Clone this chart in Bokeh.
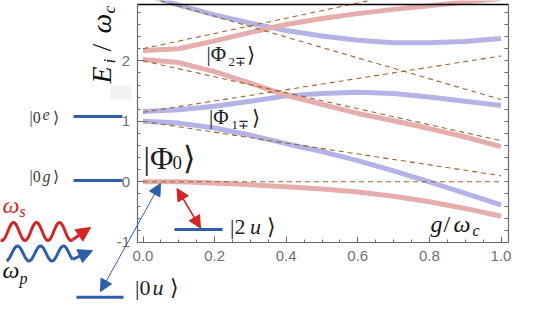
import numpy as np
from bokeh.plotting import figure
from bokeh.models import (Range1d, LinearAxis, FixedTicker, PrintfTickFormatter,
                          Label, Arrow, NormalHead, BoxAnnotation)
from bokeh.embed import file_html
from bokeh.resources import INLINE

# ---------------- data ----------------
g = [0.0, 0.1, 0.2, 0.3, 0.4, 0.5, 0.6, 0.7, 0.8, 0.9, 1.0]

# thick curves (exact spectrum)
E_pink_0 = [0.0, 0.0, -0.02, -0.05, -0.08, -0.12, -0.17, -0.24, -0.33, -0.44, -0.57]
E_blue_1 = [1.0, 0.97, 0.89, 0.77, 0.63, 0.50, 0.35, 0.18, 0.0, -0.19, -0.38]
E_blue_2 = [1.16, 1.19, 1.25, 1.33, 1.42, 1.46, 1.48, 1.46, 1.40, 1.33, 1.26]
E_pink_2 = [2.02, 1.97, 1.82, 1.63, 1.43, 1.28, 1.13, 1.01, 0.88, 0.74, 0.58]
E_pink_3 = [2.17, 2.20, 2.33, 2.47, 2.60, 2.70, 2.78, 2.85, 2.91, 2.97, 3.03]
E_blue_3 = [3.10, 2.92, 2.76, 2.62, 2.50, 2.41, 2.34, 2.30, 2.30, 2.32, 2.37]

# dashed curves (approximate levels), values at g = 0 and g = 1
g_dash = [0.0, 1.0]
D_0 = [0.0, 0.0]
D_1 = [1.0, 0.10]
D_2 = [1.15, 2.08]
D_3 = [2.0, 0.68]
D_4 = [2.2, 3.46]
D_5 = [3.08, 1.36]

# bare levels drawn beside the axes
E_0e, E_0g, E_0u, E_2u = 1.08, 0.02, -1.91, -0.79

x_major = [0.0, 0.2, 0.4, 0.6, 0.8, 1.0]
x_minor = [0.0, 0.05, 0.1, 0.15, 0.2, 0.25, 0.3, 0.35, 0.4, 0.45, 0.5,
           0.55, 0.6, 0.65, 0.7, 0.75, 0.8, 0.85, 0.9, 0.95, 1.0]
y_major = [-1, 0, 1, 2]
y_minor = [-1.0, -0.8, -0.6, -0.4, -0.2, 0.0, 0.2, 0.4, 0.6, 0.8, 1.0, 1.2,
           1.4, 1.6, 1.8, 2.0, 2.2, 2.4, 2.6, 2.8]

# ---------------- layout helpers (picture pixel -> data) ----------------
PX0, SX = 142.5, 358.0
PY0, SY = 181.3, 60.5


def X(px):
    return (px - PX0) / SX


def Y(py):
    return (PY0 - py) / SY


W, H = 531, 300
XL, XR = X(136.7), X(508.3)
YB, YT = -1.0, Y(4.3)

p = figure(width=W, height=H, x_range=Range1d(X(0), X(W)),
           y_range=Range1d(Y(H), Y(0)), x_axis_type=None, y_axis_type=None,
           toolbar_location=None, output_backend="svg", min_border=0,
           outline_line_color=None)

AX = "#6a6a6a"
axis_kw = dict(axis_line_color=AX, axis_line_width=1.2,
               major_tick_line_color=AX, minor_tick_line_color=AX,
               major_tick_in=6, major_tick_out=0, minor_tick_in=3, minor_tick_out=0,
               major_label_text_color="#707070", major_label_text_font="Liberation Sans",
               major_label_text_font_size="15px")

xb = LinearAxis(fixed_location=YB, bounds=(XL, XR),
                ticker=FixedTicker(ticks=x_major, minor_ticks=x_minor),
                formatter=PrintfTickFormatter(format="%.1f"),
                major_label_standoff=9, **axis_kw)
p.add_layout(xb, "below")

yl = LinearAxis(fixed_location=XL, bounds=(YB, YT),
                ticker=FixedTicker(ticks=y_major, minor_ticks=y_minor),
                formatter=PrintfTickFormatter(format="%d"),
                major_label_standoff=7, **axis_kw)
p.add_layout(yl, "left")

yr = LinearAxis(fixed_location=XR, bounds=(YB, YT),
                ticker=FixedTicker(ticks=[], minor_ticks=y_minor),
                axis_line_color=AX, axis_line_width=1.2, minor_tick_line_color=AX,
                major_tick_in=0, major_tick_out=0, minor_tick_in=4, minor_tick_out=0)
p.add_layout(yr, "right")

xt = LinearAxis(fixed_location=YT, bounds=(XL, XR),
                ticker=FixedTicker(ticks=[], minor_ticks=[]),
                axis_line_color="black", axis_line_width=1.5,
                major_tick_in=0, major_tick_out=0, minor_tick_in=0, minor_tick_out=0)
p.add_layout(xt, "above")

# small gray patch
p.add_layout(BoxAnnotation(left=X(110), right=X(131), top=Y(85), bottom=Y(100),
                           fill_color="#f2f2f2", fill_alpha=1.0, line_alpha=0.0))

# ---------------- curves ----------------
BLUE = "#b3b3e6"
PINK = "#e6adad"
for ys in (E_blue_1, E_blue_2, E_blue_3):
    p.line(g, ys, line_color=BLUE, line_width=5)
for ys in (E_pink_0, E_pink_2, E_pink_3):
    p.line(g, ys, line_color=PINK, line_width=5)

BROWN = "#9c6530"
for ys in (D_0, D_1, D_2, D_3, D_4, D_5):
    p.line(g_dash, ys, line_color=BROWN, line_width=1.1, line_dash="5 4")

# ---------------- level lines ----------------
DBLUE = "#2f5fa6"
RED = "#d22626"
p.line([X(73), X(122)], [E_0e, E_0e], line_color=DBLUE, line_width=3)
p.line([X(73), X(122)], [E_0g, E_0g], line_color=DBLUE, line_width=3)
p.line([X(76), X(123)], [E_0u, E_0u], line_color=DBLUE, line_width=3)
p.line([X(174), X(222)], [E_2u, E_2u], line_color=DBLUE, line_width=3)

# arrows
p.add_layout(Arrow(start=NormalHead(size=12, fill_color=DBLUE, line_color=DBLUE),
                   end=NormalHead(size=12, fill_color=DBLUE, line_color=DBLUE),
                   x_start=X(100), y_start=Y(291), x_end=X(160), y_end=Y(183),
                   line_color=DBLUE, line_width=1))
p.add_layout(Arrow(start=NormalHead(size=12, fill_color=RED, line_color=RED),
                   end=NormalHead(size=12, fill_color=RED, line_color=RED),
                   x_start=X(176.5), y_start=Y(188), x_end=X(200), y_end=Y(227.5),
                   line_color=RED, line_width=1.5))

# wavy photon arrows (decoration)
WAVE_LEN = 23.0
wx = np.linspace(0, 72, 140)
red_wy = 231 - 9 * np.cos(2 * np.pi * (wx - 13) / WAVE_LEN)
blue_wy = 253 - 7.5 * np.cos(2 * np.pi * (wx - 17) / WAVE_LEN)
blue_keep = wx >= 6
p.line([X(v) for v in wx], [Y(v) for v in red_wy], line_color=RED, line_width=3)
p.line([X(v) for v in wx[blue_keep]], [Y(v) for v in blue_wy[blue_keep]],
       line_color=DBLUE, line_width=3)
p.add_layout(Arrow(end=NormalHead(size=14, fill_color=RED, line_color=RED),
                   x_start=X(72), y_start=Y(red_wy[-1]), x_end=X(90), y_end=Y(227),
                   line_color=RED, line_width=3))
p.add_layout(Arrow(end=NormalHead(size=14, fill_color=DBLUE, line_color=DBLUE),
                   x_start=X(72), y_start=Y(blue_wy[-1]), x_end=X(92), y_end=Y(250),
                   line_color=DBLUE, line_width=3))

# ---------------- texts ----------------
SERIF = "Liberation Serif"
ASC = 0.891  # ascent of the serif font, in em (text is anchored at its top)
R = np.pi / 2


def txt(s, px, base, size, color="#222222", style="normal", rotated=False):
    """px/base: left edge and baseline in picture pixels (rotated: baseline x, start y)."""
    if rotated:
        x, y = X(base - ASC * size), Y(px)
        ang = R
    else:
        x, y = X(px), Y(base - ASC * size)
        ang = 0.0
    p.add_layout(Label(x=x, y=y, text=s, text_font=SERIF,
                       text_font_size=f"{size}px", text_font_style=style,
                       text_color=color, text_align="left",
                       text_baseline="top", angle=ang))


KET = "#3a3a3a"
# |0e>, |0g>
txt("|0", 29, 123, 16, KET)
txt("e", 42, 123, 16, KET, "italic")
txt("⟩", 52, 123, 16, KET)
txt("|0", 29, 182, 16, KET)
txt("g", 42, 182, 16, KET, "italic")
txt("⟩", 52, 182, 16, KET)

# |Phi_2-+>, |Phi_1-+>
txt("|Φ", 206, 60, 21)
txt("2∓", 228, 65, 13)
txt("⟩", 246, 61, 21)
txt("|Φ", 208.5, 123, 21)
txt("1∓", 231, 128, 13)
txt("⟩", 251, 124, 21)

# |Phi_0>
txt("|Φ", 143, 168, 32)
txt("0", 172, 172, 19)
txt("⟩", 182, 168, 32)

# |2u>, |0u>
txt("|2", 229.5, 233, 22)
txt("u", 249.5, 233, 22, style="italic")
txt("⟩", 266, 233, 22)
txt("|0", 134.5, 294, 22)
txt("u", 152, 294, 22, style="italic")
txt("⟩", 169, 294, 22)

# omega_s, omega_p
txt("ω", 2, 213, 24, RED, "italic")
txt("s", 19, 217, 16, RED, "italic")
txt("ω", 2, 278, 24, "#111111", "italic")
txt("p", 19, 284, 16, "#111111", "italic")

# axis titles
txt("g", 430, 232, 24, "#111111", "italic")
txt("/", 443, 232, 24, "#111111")
txt("ω", 453, 232, 24, "#111111", "italic")
txt("c", 472, 236, 16, "#111111", "italic")

# rotated y title: px = start (bottom) y, base = baseline x
txt("E", 83, 110, 28, "#111111", "italic", rotated=True)
txt("i", 63, 115, 17, "#111111", "italic", rotated=True)
txt("/", 51, 110, 28, "#111111", "normal", rotated=True)
txt("ω", 33, 110, 28, "#111111", "italic", rotated=True)
txt("c", 13, 115, 17, "#111111", "italic", rotated=True)

open("out.html", "w").write(file_html(p, INLINE))
